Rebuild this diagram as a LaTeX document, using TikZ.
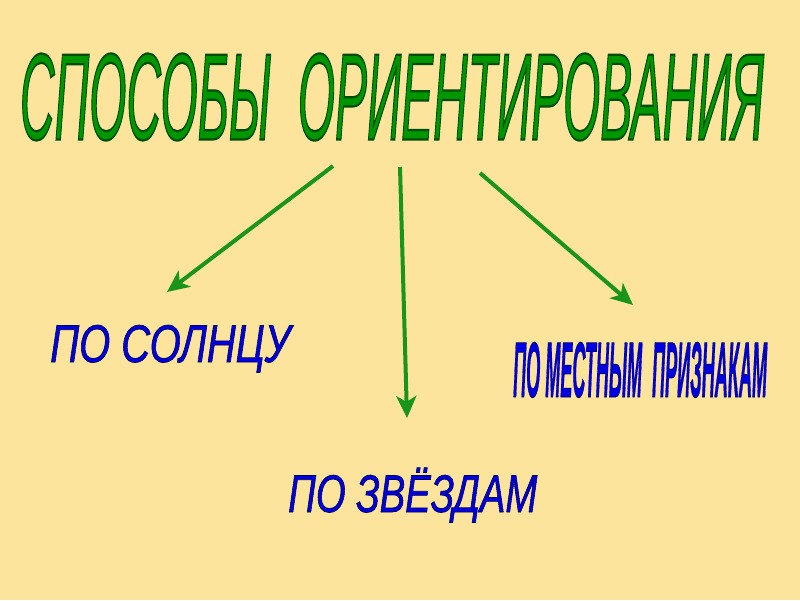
\documentclass[tikz,border=0pt]{standalone}
\usepackage{fontspec}
\setmainfont{Liberation Sans}
\newfontfamily\titlefont[FakeBold=1.8]{Liberation Sans Italic}
\newfontfamily\labelfont[FakeBold=1.4]{Liberation Sans Italic}
\newfontfamily\narrowfont[FakeBold=1.0]{Liberation Sans Bold Italic}
\usepackage{graphicx}
\usetikzlibrary{arrows.meta}
\definecolor{bgc}{RGB}{253,228,156}
\definecolor{titlegreen}{RGB}{0,150,0}
\definecolor{arrowgreen}{RGB}{25,150,25}
\definecolor{labelblue}{RGB}{0,0,225}
\newcommand{\greenedge}{\special{pdf:code 0 0.3 0 RG}}
\newcommand{\blueedge}{\special{pdf:code 0 0 0.33 RG}}
\tikzset{
  titletext/.style={inner sep=0pt, text=titlegreen},
  labeltext/.style={inner sep=0pt, text=labelblue},
  branch/.style={draw=arrowgreen, line width=4pt,
    -{Stealth[length=22pt,width=20pt,inset=6pt]}}
}
\begin{document}
\begin{tikzpicture}[x=1pt,y=-1pt]
\fill[bgc] (0,0) rectangle (800,600);
\useasboundingbox (0,0) rectangle (800,600);

\node[titletext, anchor=center] (title) at (392,97)
  {\greenedge\resizebox{744pt}{86pt}{\fontsize{40}{40}\titlefont СПОСОБЫ\ \ ОРИЕНТИРОВАНИЯ}};

\node[labeltext, anchor=base west] (sun) at (50,362)
  {\blueedge\resizebox{240pt}{37pt}{\fontsize{30}{30}\labelfont ПО СОЛНЦУ}};

\node[labeltext, anchor=base west] (stars) at (288,512)
  {\blueedge\resizebox{249pt}{37pt}{\fontsize{30}{30}\labelfont ПО ЗВ\smash{Ё}ЗДАМ}};

\node[labeltext, anchor=base west] (signs) at (513,397)
  {\blueedge\resizebox{254pt}{55pt}{\fontsize{30}{30}\narrowfont ПО МЕСТНЫМ\ \ ПРИЗНАКАМ}};

\coordinate (s1) at (333,166);
\coordinate (s2) at (400,167);
\coordinate (s3) at (480,173);
\coordinate (e1) at (167,292);
\coordinate (e2) at (407,418);
\coordinate (e3) at (633,305);

\draw[branch] (s1) -- (e1);
\draw[branch] (s2) -- (e2);
\draw[branch] (s3) -- (e3);
\end{tikzpicture}
\end{document}
